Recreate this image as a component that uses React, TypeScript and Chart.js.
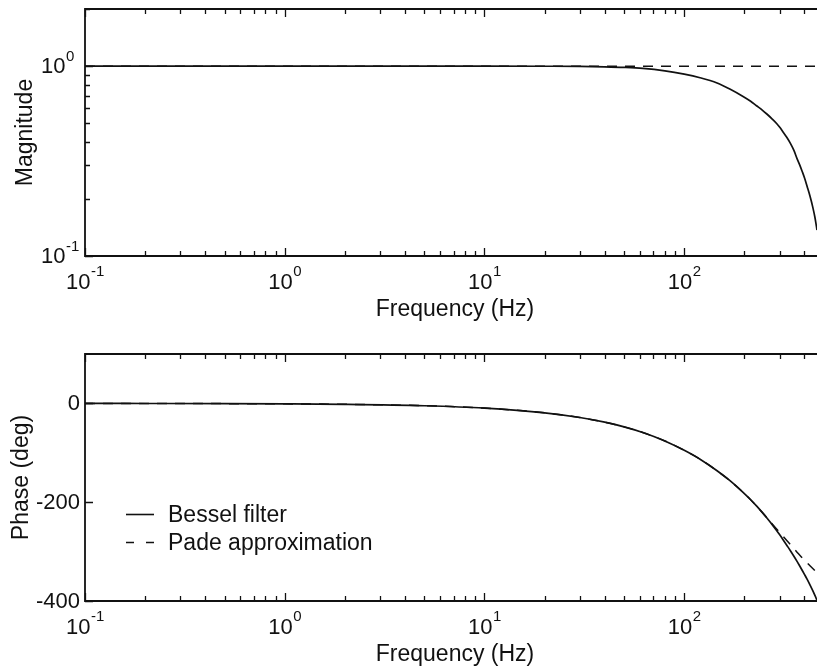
import React, { useEffect, useRef } from "react";
import { Chart, registerables } from "chart.js";

Chart.register(...registerables);

const FONT = '"Liberation Sans", Arial, Helvetica, sans-serif';

// ---- data ----
const frequencies = [0.1, 0.2, 0.5, 1, 2, 5, 10, 20, 30, 40, 50, 62, 80, 100, 120, 146, 170, 197, 215, 230, 245, 260, 275, 290, 300, 313, 326, 340, 354, 367, 378, 390, 401, 412, 426, 440, 451, 462];
const besselMagnitude = [1, 1, 1, 1, 1, 1, 1, 0.999, 0.997, 0.992, 0.985, 0.973, 0.945, 0.908, 0.869, 0.815, 0.755, 0.692, 0.653, 0.619, 0.589, 0.558, 0.528, 0.499, 0.478, 0.449, 0.422, 0.392, 0.36, 0.326, 0.303, 0.278, 0.256, 0.233, 0.207, 0.181, 0.16, 0.137];
const padeMagnitude = [1, 1, 1, 1, 1, 1, 1, 1, 1, 1, 1, 1, 1, 1, 1, 1, 1, 1, 1, 1, 1, 1, 1, 1, 1, 1, 1, 1, 1, 1, 1, 1, 1, 1, 1, 1, 1, 1];
const besselPhase = [-0.095, -0.19, -0.475, -0.95, -1.9, -4.75, -9.5, -19, -28.5, -38, -47.5, -58.9, -76, -95, -113, -136.4, -157, -180, -195, -207.5, -220, -232.4, -244.9, -257.3, -265.6, -276.4, -287.1, -298.2, -309.4, -319.8, -328.6, -338.2, -347, -355.8, -367.3, -379.1, -388.7, -398.6];
const padePhase = [-0.095, -0.19, -0.475, -0.95, -1.9, -4.75, -9.5, -19, -28.5, -38, -47.5, -58.9, -76, -95, -113, -136.4, -157, -180, -195, -207.5, -220, -232, -243.5, -254.3, -261.1, -269.5, -277.6, -286, -294, -301.2, -307, -312.8, -317.8, -322.6, -328.5, -334.2, -338.5, -342.6];

const seriesLabels = ["Bessel filter", "Pade approximation"];
const xDecadeExponents = [-1, 0, 1, 2];
const magnitudeExponents = [-1, 0];
const phaseTicks = [-400, -200, 0];
const xTitle = "Frequency (Hz)";
const magTitle = "Magnitude";
const phaseTitle = "Phase (deg)";

const X_MIN = 0.1;
const X_MAX = 462;

function pts(ys: number[]) {
  return frequencies.map((f, i) => ({ x: f, y: ys[i] }));
}

type DecorOpts = {
  yLog: boolean;
  yTitle: string;
  yTitleX: number;
  legend: boolean;
};

function makeDecor(o: DecorOpts) {
  return {
    id: "decor",
    afterDraw(chart: any) {
      const { ctx, chartArea: a, scales } = chart;
      const xs = scales.x;
      const ys = scales.y;
      ctx.save();
      ctx.strokeStyle = "#111";
      ctx.fillStyle = "#111";
      ctx.lineWidth = 1.8;
      // frame (right side cropped in reference)
      ctx.beginPath();
      ctx.moveTo(a.right + 5, a.top);
      ctx.lineTo(a.left, a.top);
      ctx.lineTo(a.left, a.bottom);
      ctx.lineTo(a.right + 5, a.bottom);
      ctx.stroke();

      // x ticks (inward, top and bottom)
      ctx.lineWidth = 1.3;
      ctx.beginPath();
      for (const e of xDecadeExponents) {
        for (let m = 1; m <= 9; m++) {
          const v = m * Math.pow(10, e);
          if (v < X_MIN - 1e-9 || v > X_MAX) continue;
          const px = Math.round(xs.getPixelForValue(v)) + 0.5;
          const len = m === 1 ? 8 : 5;
          ctx.moveTo(px, a.top);
          ctx.lineTo(px, a.top + len);
          ctx.moveTo(px, a.bottom);
          ctx.lineTo(px, a.bottom - len);
        }
      }
      // y ticks
      if (o.yLog) {
        for (const e of [-1, 0]) {
          for (let m = 1; m <= 9; m++) {
            const v = m * Math.pow(10, e);
            if (v < ys.min - 1e-9 || v > ys.max + 1e-9) continue;
            const py = Math.round(ys.getPixelForValue(v)) + 0.5;
            const len = m === 1 ? 8 : 5;
            ctx.moveTo(a.left, py);
            ctx.lineTo(a.left + len, py);
          }
        }
      } else {
        for (const v of phaseTicks) {
          const py = Math.round(ys.getPixelForValue(v)) + 0.5;
          ctx.moveTo(a.left, py);
          ctx.lineTo(a.left + 8, py);
        }
      }
      ctx.stroke();

      // x tick labels 10^e
      const big = `22px ${FONT}`;
      const small = `15px ${FONT}`;
      ctx.textBaseline = "middle";
      for (const e of xDecadeExponents) {
        const px = xs.getPixelForValue(Math.pow(10, e));
        ctx.font = big;
        const w1 = ctx.measureText("10").width;
        ctx.font = small;
        const w2 = ctx.measureText(String(e)).width;
        const x0 = px - (w1 + w2) / 2;
        ctx.font = big;
        ctx.textAlign = "left";
        ctx.fillText("10", x0, a.bottom + 27);
        ctx.font = small;
        ctx.fillText(String(e), x0 + w1 + 0.5, a.bottom + 16);
      }

      // y tick labels
      if (o.yLog) {
        for (const e of magnitudeExponents) {
          const py = ys.getPixelForValue(Math.pow(10, e));
          ctx.font = big;
          ctx.textAlign = "right";
          ctx.fillText("10", 65.5, py + 1);
          ctx.font = small;
          ctx.textAlign = "left";
          ctx.fillText(String(e), 66, py - 9);
        }
      } else {
        ctx.font = big;
        ctx.textAlign = "right";
        for (const v of phaseTicks) {
          const py = ys.getPixelForValue(v);
          ctx.fillText(String(v), 80, py + 1);
        }
      }

      // x title
      ctx.font = `23px ${FONT}`;
      ctx.textAlign = "center";
      ctx.fillText(xTitle, (a.left + a.right) / 2 + 4, a.bottom + 54);

      // y title
      ctx.save();
      ctx.translate(o.yTitleX, (a.top + a.bottom) / 2);
      ctx.rotate(-Math.PI / 2);
      ctx.textAlign = "center";
      ctx.fillText(o.yTitle, 0, 0);
      ctx.restore();

      // legend
      if (o.legend) {
        const dsets = chart.data.datasets;
        dsets.forEach((ds: any, i: number) => {
          const ly = Math.round(a.top + 160 + i * 28) + 0.5;
          ctx.save();
          ctx.lineWidth = 1.6;
          ctx.setLineDash(ds.borderDash && ds.borderDash.length ? [8, 12] : []);
          ctx.beginPath();
          ctx.moveTo(a.left + 41, ly);
          ctx.lineTo(a.left + 69, ly);
          ctx.stroke();
          ctx.restore();
          ctx.font = `23px ${FONT}`;
          ctx.textAlign = "left";
          ctx.fillText(ds.label, a.left + 83, ly + 1);
        });
      }
      ctx.restore();
    },
  };
}

function makeConfig(
  yLog: boolean,
  a: number[],
  b: number[],
  yMin: number,
  yMax: number,
  padding: any,
  decor: any
): any {
  return {
    type: "line",
    data: {
      datasets: [
        {
          label: seriesLabels[0],
          data: pts(a),
          borderColor: "#111",
          borderWidth: 1.7,
          pointRadius: 0,
          cubicInterpolationMode: "monotone",
          fill: false,
        },
        {
          label: seriesLabels[1],
          data: pts(b),
          borderColor: "#111",
          borderWidth: 1.5,
          borderDash: [10, 8],
          pointRadius: 0,
          cubicInterpolationMode: "monotone",
          fill: false,
        },
      ],
    },
    options: {
      animation: false,
      responsive: false,
      devicePixelRatio: 1,
      layout: { padding },
      plugins: { legend: { display: false }, tooltip: { enabled: false } },
      scales: {
        x: { type: "logarithmic", min: X_MIN, max: X_MAX, display: false },
        y: { type: yLog ? "logarithmic" : "linear", min: yMin, max: yMax, display: false },
      },
    },
    plugins: [decor],
  };
}

export default function App() {
  const topRef = useRef<HTMLCanvasElement>(null);
  const botRef = useRef<HTMLCanvasElement>(null);

  useEffect(() => {
    const c1 = new Chart(
      topRef.current!,
      makeConfig(
        true,
        besselMagnitude,
        padeMagnitude,
        0.1,
        2,
        { left: 85, top: 9, right: 0, bottom: 74 },
        makeDecor({ yLog: true, yTitle: magTitle, yTitleX: 25.5, legend: false })
      )
    );
    const c2 = new Chart(
      botRef.current!,
      makeConfig(
        false,
        besselPhase,
        padePhase,
        -400,
        100,
        { left: 85, top: 24, right: 0, bottom: 67 },
        makeDecor({ yLog: false, yTitle: phaseTitle, yTitleX: 21.5, legend: true })
      )
    );
    return () => {
      c1.destroy();
      c2.destroy();
    };
  }, []);

  return (
    <div
      style={{
        position: "absolute",
        left: 0,
        top: 0,
        width: 817,
        height: 668,
        overflow: "hidden",
        background: "#fff",
      }}
    >
      <canvas ref={topRef} width={817} height={330} style={{ position: "absolute", left: 0, top: 0, display: "block" }} />
      <canvas ref={botRef} width={817} height={338} style={{ position: "absolute", left: 0, top: 330, display: "block" }} />
    </div>
  );
}
